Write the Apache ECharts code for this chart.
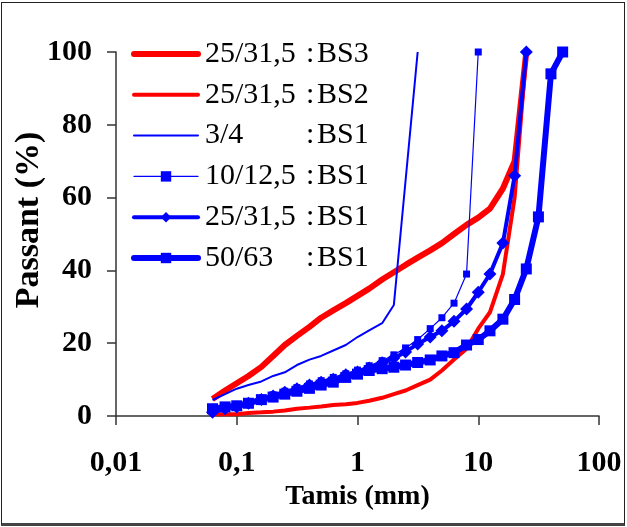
<!DOCTYPE html>
<html><head><meta charset="utf-8">
<script src="https://cdn.jsdelivr.net/npm/echarts@6/dist/echarts.min.js"></script>
<style>
html,body{margin:0;padding:0;background:#fff;}
#wrap{position:relative;width:627px;height:527px;}
#chart{position:absolute;left:0;top:0;width:627px;height:527px;}
#frame{position:absolute;left:1px;top:2px;width:622px;height:520px;border:1px solid #222;border-bottom:3px solid #444;pointer-events:none;}
</style></head>
<body><div id="wrap"><div id="chart"></div><div id="frame"></div></div>
<script>
// Sieve sizes (mm)
const sieves = [0.063,0.08,0.1,0.125,0.16,0.2,0.25,0.315,0.4,0.5,0.63,0.8,1,1.25,1.6,2,2.5,3.15,4,5,6.3,8,10,12.5,16,20,25,31.5,40,50];
// Passing (%) per series, null = no measurement
const bs3_25 = [4.7,7,9,11,13.5,16.5,19.5,22,24.5,27,29,31,33,35,37.5,39.5,41.5,43.5,45.5,47.5,50,52.5,54.5,57,62.5,70,100,null,null,null];
const bs2_25 = [0.5,0.5,0.5,0.8,1,1.2,1.5,2,2.3,2.6,3,3.2,3.6,4.2,5,6,7,8.5,10,12.5,15.5,18.5,24,28.5,39,60,100,null,null,null];
const bs1_3 = [4.4,6,7.5,8.5,9.5,11,12,14,15.5,16.5,18,19.5,21.7,23.5,25.5,30.5,null,100,null,null,null,null,null,null,null,null,null,null,null,null];
const bs1_10 = [1.5,2.2,3,3.8,4.8,5.8,6.8,7.8,8.8,9.7,10.6,11.6,12.6,13.8,15.2,16.8,18.7,21,24,27,31,39,100,null,null,null,null,null,null,null];
const bs1_25 = [1,2,2.5,3.5,4.5,5.5,6.5,7.5,8.5,9.3,10.1,11.3,12.1,13.2,14.6,15.9,17.6,19.8,21.7,23.4,26,29.4,34,39,47.5,66,100,null,null,null];
const bs1_50 = [2,2.5,2.8,3.5,4.5,5.2,6,6.8,7.6,8.5,9.3,10.6,11.5,12.5,13,13.4,14,14.7,15.4,16.5,17.4,19.5,21,23.4,26.6,32,40.4,54.7,94,100];
const seriesNames = ['25/31,5 : BS3','25/31,5 : BS2','3/4 : BS1','10/12,5 : BS1','25/31,5 : BS1','50/63 : BS1'];
const xTickLabels = ['0,01','0,1','1','10','100'];
const yTicks = [0,20,40,60,80,100];

function pairs(vals){ return sieves.map((s,i)=> vals[i]==null ? null : [s, vals[i]]).filter(Boolean); }

const RED='#FF0000', BLUE='#0000FF';
const FONT='Liberation Serif';
const styles = [
  {data:bs3_25, color:RED, width:6, symbol:'none', size:0},
  {data:bs2_25, color:RED, width:4, symbol:'none', size:0},
  {data:bs1_3, color:BLUE, width:2, symbol:'none', size:0},
  {data:bs1_10, color:BLUE, width:1.2, symbol:'rect', size:7},
  {data:bs1_25, color:BLUE, width:4, symbol:'diamond', size:13},
  {data:bs1_50, color:BLUE, width:6, symbol:'rect', size:11}
];

const legendData = styles.map((s,i)=>({
  name:seriesNames[i],
  itemStyle:{color:s.color, opacity:s.symbol==='none'?0:1},
  lineStyle:{color:s.color, width:s.width, cap:'round'}
}));

const chart = echarts.init(document.getElementById('chart'), null, {renderer:'canvas'});
chart.setOption({
  animation:false,
  backgroundColor:'#fff',
  grid:{left:116, top:52, width:483, height:364, containLabel:false},
  legend:{
    left:131, top:39, padding:0, orient:'vertical', itemWidth:64, itemHeight:13, itemGap:10.8,
    data:legendData,
    formatter:function(n){ const p=n.split(' : '); return '{a|'+p[0]+'}{c|:}{b|'+p[1]+'}'; },
    textStyle:{fontFamily:FONT, fontSize:30, color:'#000', lineHeight:30,
      rich:{a:{fontFamily:FONT,fontSize:30,width:101,lineHeight:30,padding:[0,0,0,2]},
            c:{fontFamily:FONT,fontSize:30,width:11,lineHeight:30},
            b:{fontFamily:FONT,fontSize:30,lineHeight:30}}}
  },
  xAxis:{
    type:'log', logBase:10, min:0.01, max:100, interval:1,
    name:'Tamis (mm)', nameLocation:'middle', nameGap:66,
    nameTextStyle:{fontFamily:FONT, fontWeight:'bold', fontSize:28, color:'#000'},
    axisLine:{lineStyle:{color:'#333', width:1.5}},
    axisTick:{show:true, inside:false, length:9, lineStyle:{color:'#333', width:1.5}},
    minorTick:{show:false}, splitLine:{show:false},
    axisLabel:{margin:32, fontFamily:FONT, fontWeight:'bold', fontSize:30, color:'#000',
      formatter:function(v){ const k=Math.round(Math.log10(v))+2; return xTickLabels[k]; }}
  },
  yAxis:{
    type:'value', min:yTicks[0], max:yTicks[yTicks.length-1], interval:20,
    axisLine:{show:true, lineStyle:{color:'#333', width:1.5}},
    axisTick:{show:true, inside:false, length:9, lineStyle:{color:'#333', width:1.5}},
    splitLine:{show:false},
    axisLabel:{margin:24, fontFamily:FONT, fontWeight:'bold', fontSize:30, color:'#000'}
  },
  graphic:[{type:'text', x:29, y:220, rotation:Math.PI/2,
    style:{text:'Passant (%)', fontFamily:FONT, fontWeight:'bold', fontSize:34, fill:'#000', align:'center', verticalAlign:'middle'}}],
  series: styles.map((s,i)=>({
    name:seriesNames[i], type:'line', data:pairs(s.data),
    symbol:s.symbol, symbolSize:s.size, showSymbol:s.symbol!=='none',
    lineStyle:{color:s.color, width:s.width},
    itemStyle:{color:s.color},
    smooth:false, connectNulls:true
  }))
});
</script></body></html>
